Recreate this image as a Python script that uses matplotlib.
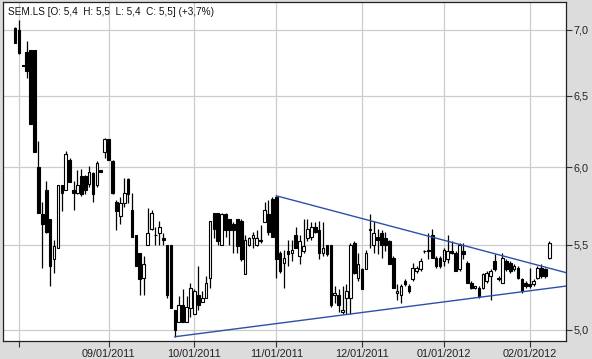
import numpy as np
import matplotlib
matplotlib.use('Agg')
import matplotlib.pyplot as plt
from matplotlib.ticker import FixedLocator, NullLocator, FixedFormatter

plt.rcParams['font.family'] = ['Liberation Sans', 'DejaVu Sans']

## daily OHLC, SEM.LS, 29/07/2011 .. 08/02/2012 (one entry per trading day)
opens = [7.01, 7.00, 6.73, 6.83, 6.84, 6.84, 6.00, 5.69, 5.85, 5.66,
         5.41, 5.48, 5.88, 5.85, 6.05, 5.85, 5.83, 5.94, 5.94, 5.89,
         5.96, 5.88, 5.98, 6.10, 6.19, 6.04, 5.77, 5.68, 5.76, 5.92,
         5.72, 5.56, 5.45, 5.30, 5.50, 5.60, 5.56, 5.57, 5.54, 5.50,
         5.50, 5.11, 5.04, 5.14, 5.04, 5.12, 5.09, 5.20, 5.16, 5.18,
         5.30, 5.70, 5.70, 5.50, 5.69, 5.66, 5.63, 5.66, 5.65, 5.32,
         5.50, 5.54, 5.50, 5.53, 5.64, 5.69, 5.79, 5.80, 5.45, 5.39,
         5.46, 5.45, 5.56, 5.43, 5.46, 5.54, 5.55, 5.61, 5.59, 5.45,
         5.50, 5.50, 5.20, 5.20, 5.10, 5.18, 5.18, 5.51, 5.30, 5.35,
         5.35, 5.59, 5.50, 5.55, 5.57, 5.54, 5.52, 5.42, 5.21, 5.20,
         5.28, 5.25, 5.29, 5.34, 5.35, 5.46, 5.46, 5.56, 5.42, 5.42,
         5.40, 5.41, 5.46, 5.45, 5.35, 5.46, 5.39, 5.27, 5.24, 5.24,
         5.24, 5.28, 5.31, 5.40, 5.30, 5.27, 5.40, 5.39, 5.35, 5.36,
         5.29, 5.27, 5.26, 5.26, 5.30, 5.36, 5.35, 5.42]
highs = [7.02, 7.08, 6.73, 6.91, 6.84, 6.84, 6.18, 5.77, 5.91, 5.66,
         5.53, 5.88, 5.88, 6.11, 6.06, 5.91, 5.98, 5.99, 5.95, 6.01,
         5.97, 6.04, 5.98, 6.20, 6.19, 6.05, 5.78, 5.80, 5.93, 5.93,
         5.83, 5.56, 5.45, 5.43, 5.73, 5.72, 5.61, 5.65, 5.57, 5.50,
         5.50, 5.11, 5.19, 5.23, 5.19, 5.27, 5.23, 5.37, 5.22, 5.31,
         5.65, 5.70, 5.70, 5.70, 5.70, 5.66, 5.64, 5.66, 5.66, 5.56,
         5.55, 5.58, 5.59, 5.62, 5.77, 5.78, 5.80, 5.81, 5.46, 5.47,
         5.53, 5.53, 5.61, 5.56, 5.66, 5.66, 5.64, 5.64, 5.65, 5.64,
         5.50, 5.50, 5.25, 5.23, 5.25, 5.26, 5.51, 5.52, 5.45, 5.36,
         5.47, 5.69, 5.65, 5.60, 5.59, 5.58, 5.53, 5.43, 5.26, 5.26,
         5.29, 5.26, 5.39, 5.37, 5.42, 5.47, 5.57, 5.60, 5.43, 5.43,
         5.48, 5.56, 5.52, 5.46, 5.51, 5.51, 5.40, 5.28, 5.25, 5.25,
         5.33, 5.34, 5.35, 5.44, 5.31, 5.45, 5.41, 5.40, 5.38, 5.37,
         5.30, 5.28, 5.36, 5.29, 5.37, 5.38, 5.36, 5.52]
lows = [6.90, 6.81, 6.72, 6.63, 6.30, 6.10, 5.70, 5.36, 5.57, 5.25,
        5.33, 5.48, 5.71, 5.85, 5.90, 5.72, 5.82, 5.81, 5.82, 5.87,
        5.77, 5.87, 5.97, 6.06, 6.05, 5.82, 5.59, 5.63, 5.74, 5.76,
        5.55, 5.37, 5.20, 5.20, 5.50, 5.59, 5.50, 5.50, 5.50, 5.18,
        5.12, 4.96, 5.04, 5.04, 5.04, 5.07, 5.09, 5.11, 5.16, 5.18,
        5.24, 5.54, 5.50, 5.50, 5.55, 5.50, 5.45, 5.45, 5.40, 5.32,
        5.49, 5.48, 5.49, 5.51, 5.64, 5.56, 5.55, 5.30, 5.33, 5.24,
        5.37, 5.40, 5.48, 5.38, 5.45, 5.52, 5.53, 5.57, 5.41, 5.43,
        5.43, 5.13, 5.15, 5.10, 5.09, 5.09, 5.09, 5.32, 5.28, 5.23,
        5.35, 5.48, 5.45, 5.44, 5.42, 5.46, 5.38, 5.24, 5.17, 5.15,
        5.25, 5.21, 5.28, 5.33, 5.34, 5.45, 5.41, 5.42, 5.36, 5.36,
        5.37, 5.39, 5.44, 5.34, 5.34, 5.41, 5.27, 5.23, 5.23, 5.18,
        5.23, 5.27, 5.17, 5.34, 5.28, 5.27, 5.34, 5.33, 5.34, 5.29,
        5.21, 5.24, 5.24, 5.25, 5.29, 5.30, 5.30, 5.41]
closes = [6.90, 6.82, 6.72, 6.68, 6.30, 6.10, 5.70, 5.63, 5.58, 5.37,
          5.49, 5.88, 5.83, 6.09, 5.90, 5.83, 5.88, 5.82, 5.85, 5.97,
          5.82, 6.03, 5.97, 6.19, 6.05, 5.83, 5.71, 5.76, 5.83, 5.82,
          5.55, 5.37, 5.29, 5.38, 5.57, 5.70, 5.56, 5.61, 5.53, 5.20,
          5.12, 5.00, 5.14, 5.04, 5.13, 5.24, 5.22, 5.14, 5.18, 5.27,
          5.65, 5.60, 5.52, 5.69, 5.59, 5.59, 5.59, 5.49, 5.41, 5.53,
          5.54, 5.56, 5.54, 5.52, 5.72, 5.58, 5.55, 5.41, 5.34, 5.42,
          5.44, 5.47, 5.48, 5.52, 5.49, 5.60, 5.61, 5.58, 5.45, 5.48,
          5.44, 5.14, 5.21, 5.14, 5.11, 5.22, 5.50, 5.33, 5.38, 5.23,
          5.45, 5.60, 5.57, 5.53, 5.50, 5.50, 5.38, 5.24, 5.22, 5.25,
          5.26, 5.22, 5.36, 5.36, 5.40, 5.46, 5.47, 5.42, 5.37, 5.37,
          5.47, 5.46, 5.45, 5.34, 5.50, 5.44, 5.27, 5.24, 5.25, 5.19,
          5.32, 5.33, 5.34, 5.35, 5.29, 5.42, 5.35, 5.34, 5.37, 5.30,
          5.22, 5.25, 5.25, 5.28, 5.36, 5.31, 5.31, 5.51]

## month starts (bar index) for the x axis
tick_idx = [1, 24, 46, 67, 89, 110, 132]
tick_lbl = ['', '09/01/2011', '10/01/2011', '11/01/2011', '12/01/2011', '01/01/2012', '02/01/2012']
price_ticks = [5.0, 5.5, 6.0, 6.5, 7.0]
price_lbl = ['5,0', '5,5', '6,0', '6,5', '7,0']

## hand drawn trend lines (start bar, start price) -> (end bar, end price)
upper_x = [67, 141.3]
upper_y = [5.81, 5.33]
lower_x = [41, 141.3]
lower_y = [4.96, 5.25]

title = 'SEM.LS [O: 5,4  H: 5,5  L: 5,4  C: 5,5] (+3,7%)'

o = np.array(opens); h = np.array(highs); l = np.array(lows); c = np.array(closes)
xx = np.arange(len(o))
up = c >= o

fig = plt.figure(figsize=(5.92, 3.59), dpi=100, facecolor='#dcdcdc')
ax = fig.add_axes([0.005, 0.05, 0.951, 0.944], facecolor='white')
ax.set_yscale('log')

## grid
for t in tick_idx:
    ax.axvline(t, color='#cccccc', lw=0.9, zorder=0)
for p in price_ticks:
    ax.axhline(p, color='#cccccc', lw=0.9, zorder=0)

## candles: wicks then bodies
ax.vlines(xx, l, h, color='black', lw=0.9, zorder=2)
bw = 0.68
bot = np.minimum(o, c)
hgt = np.maximum(np.abs(c - o), 0.002)
ax.bar(xx[up], hgt[up], bottom=bot[up], width=bw, color='white',
       edgecolor='black', lw=0.8, zorder=3)
ax.bar(xx[~up], hgt[~up], bottom=bot[~up], width=bw, color='black',
       edgecolor='black', lw=0.8, zorder=3)

## trend lines
ax.plot(upper_x, upper_y, color='#2f4fa8', lw=1.0, zorder=4)
ax.plot(lower_x, lower_y, color='#2f4fa8', lw=1.0, zorder=4)

ax.set_xlim(-3.1, 141.3)
ax.set_ylim(4.936, 7.22)

ax.yaxis.tick_right()
ax.yaxis.set_major_locator(FixedLocator(price_ticks))
ax.yaxis.set_major_formatter(FixedFormatter(price_lbl))
ax.yaxis.set_minor_locator(NullLocator())
ax.xaxis.set_major_locator(FixedLocator(tick_idx))
ax.xaxis.set_major_formatter(FixedFormatter(tick_lbl))
ax.tick_params(axis='both', length=4, width=0.8, color='#333333',
               labelsize=7.8, labelcolor='#222222', pad=1.5)
for s in ax.spines.values():
    s.set_color('#222222')
    s.set_linewidth(0.9)

ax.text(0.009, 0.985, title, transform=ax.transAxes, ha='left', va='top',
        fontsize=7.2, color='#111111')

fig.savefig('out.png', dpi=100, facecolor=fig.get_facecolor())
